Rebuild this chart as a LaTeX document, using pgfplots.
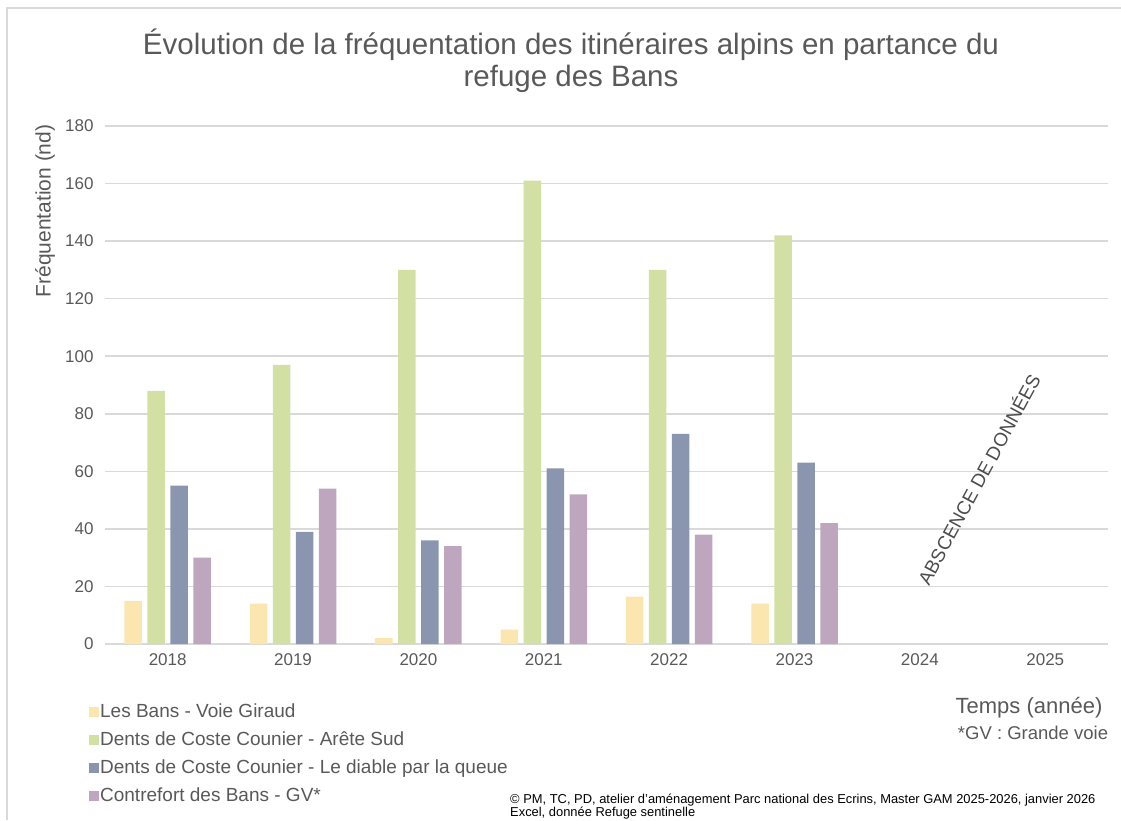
\documentclass[border=0pt]{standalone}
\usepackage{fontspec}
\setmainfont{Liberation Sans}
\usepackage{pgfplots}
\pgfplotsset{compat=1.18}
\definecolor{cY}{HTML}{FBE6AF}
\definecolor{cG}{HTML}{D2E0A3}
\definecolor{cB}{HTML}{8A96B0}
\definecolor{cP}{HTML}{BEA6BE}
\definecolor{gridc}{HTML}{D9D9D9}
\definecolor{txt}{HTML}{595959}
\newcommand{\fs}[1]{\fontsize{#1}{#1}\selectfont}
\begin{document}
\begin{tikzpicture}[x=1pt,y=1pt]
\path[use as bounding box] (0,0) rectangle (1121,820);
\draw[gridc, line width=2pt] (7,0) -- (7,812) -- (1121,812);
\begin{axis}[
  at={(105pt,176pt)}, anchor=south west,
  scale only axis, width=1003pt, height=518pt,
  ymin=0, ymax=180, xmin=-0.5, xmax=7.5,
  ytick={0,20,...,180},
  xtick={0,1,2,3,4,5,6,7},
  xticklabels={2018,2019,2020,2021,2022,2023,2024,2025},
  ybar=5.5pt, bar width=17.5pt,
  axis line style={draw=none},
  ymajorgrids, grid style={gridc, line width=1.5pt},
  major tick length=0pt,
  tick label style={font=\fs{17}, text=txt},
  /pgf/number format/assume math mode=true,
  yticklabel style={xshift=-8pt},
  xticklabel style={yshift=-6pt},
  legend cell align=left,
  legend style={at={(-0.016,-0.112)}, anchor=north west, draw=none, fill=none,
    inner sep=0pt, row sep=8pt, font=\fs{19}, text=txt,
    nodes={inner sep=1pt, text height=14pt, text depth=4pt}},
  legend image code/.code={\path[#1] (0pt,-5pt) rectangle (10pt,5pt);},
]
\addplot[fill=cY, draw=none] coordinates {(0,15) (1,14) (2,2) (3,5) (4,16.5) (5,14)};
\addplot[fill=cG, draw=none] coordinates {(0,88) (1,97) (2,130) (3,161) (4,130) (5,142)};
\addplot[fill=cB, draw=none] coordinates {(0,55) (1,39) (2,36) (3,61) (4,73) (5,63)};
\addplot[fill=cP, draw=none] coordinates {(0,30) (1,54) (2,34) (3,52) (4,38) (5,42)};
\legend{Les Bans - Voie Giraud, Dents de Coste Counier - Arête Sud, Dents de Coste Counier - Le diable par la queue, Contrefort des Bans - GV*}
\end{axis}
\node[align=center, text=txt, font=\fontsize{29.5}{32}\selectfont] at (571,759)
  {Évolution de la fréquentation des itinéraires alpins en partance du\\refuge des Bans};
\node[rotate=90, text=txt, font=\fs{21}] at (45,609) {Fréquentation (nd)};
\node[text=txt, font=\fs{22}] at (1029,112) {Temps (année)};
\node[text=txt, font=\fs{18.5}] at (1033,87) {*GV : Grande voie};
\node[rotate=61.5, text=black!70, font=\fs{19}] at (978,341) {ABSCENCE DE DONNÉES};
\node[anchor=west, align=left, font=\fontsize{12.9}{13}\selectfont, inner sep=0pt] at (510,13)
  {© PM, TC, PD, atelier d'aménagement Parc national des Ecrins, Master GAM 2025-2026, janvier 2026\\Excel, donnée Refuge sentinelle};
\end{tikzpicture}
\end{document}
